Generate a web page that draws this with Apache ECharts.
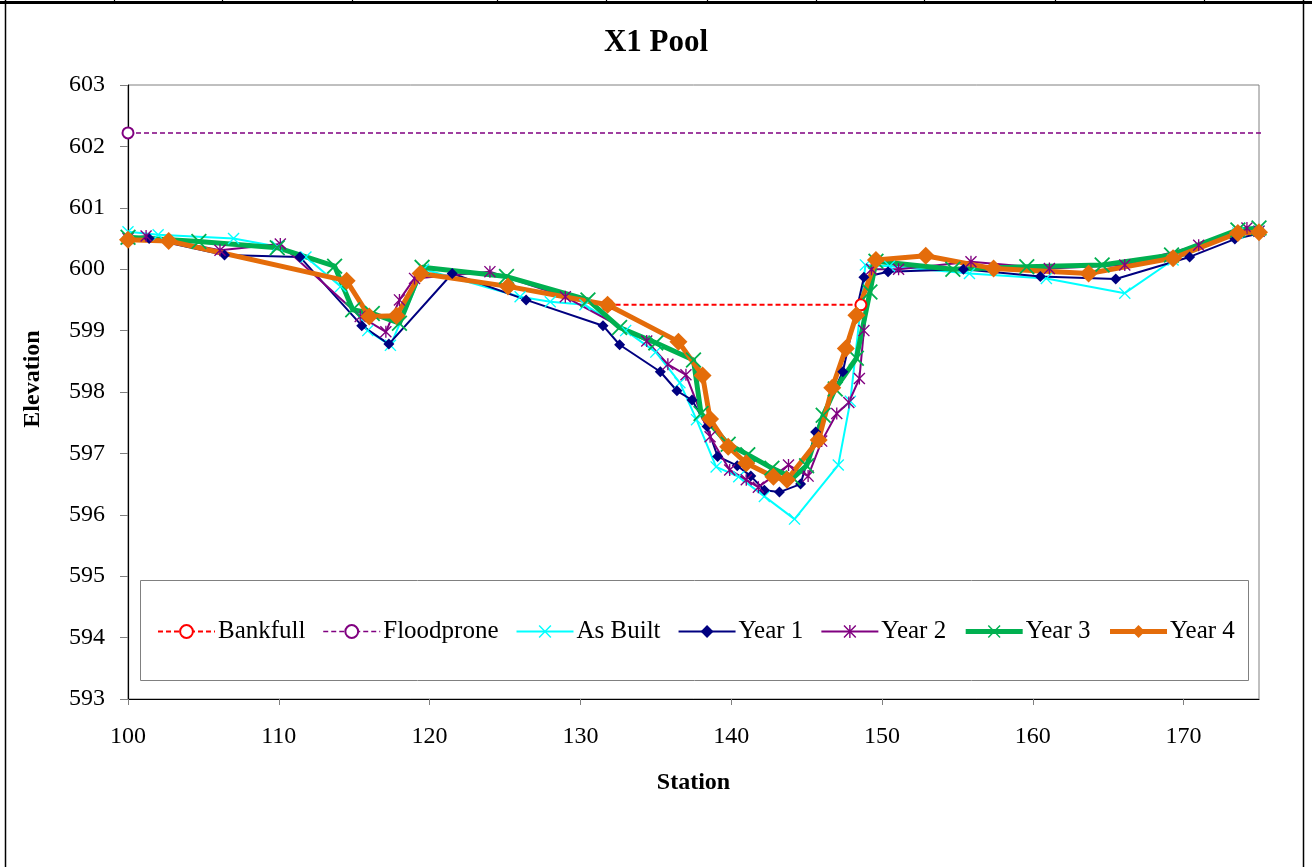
<!DOCTYPE html>
<html>
<head>
<meta charset="utf-8">
<title>X1 Pool</title>
<script src="https://cdn.jsdelivr.net/npm/echarts@6/dist/echarts.min.js"></script>
<style>
  html, body { margin: 0; padding: 0; background: #fff; }
  #chart { width: 1312px; height: 867px; }
</style>
</head>
<body>
<div id="chart"></div>
<script>
// Cross-section X1 (pool): station (ft) vs. elevation (ft)
const xTicks = [100, 110, 120, 130, 140, 150, 160, 170];
const yTicks = [593, 594, 595, 596, 597, 598, 599, 600, 601, 602, 603];

const bankfullStation = [131.8, 148.6];
const bankfullElev    = [599.42, 599.42];

const floodproneStation = [100, 175.6];
const floodproneElev    = [602.22, 602.22];

const asBuiltStation = [100.0, 102.0, 107.0, 109.9, 111.8, 114.1, 115.9, 117.4, 119.6, 126.0,
  128.0, 130.3, 133.0, 135.0, 136.6, 137.7, 139.0, 140.5, 142.2, 144.2, 147.1, 147.9, 148.9,
  150.5, 155.8, 160.9, 166.1, 169.3, 173.6, 175.0];
const asBuiltElev = [600.61, 600.56, 600.50, 600.37, 600.20, 599.72, 599.00, 598.76, 600.00, 599.55,
  599.47, 599.42, 599.00, 598.65, 598.15, 597.55, 596.78, 596.62, 596.30, 595.93, 596.81, 597.85, 600.07,
  600.05, 599.93, 599.85, 599.61, 600.15, 600.59, 600.62];

const year1Station = [100.0, 101.4, 106.4, 111.4, 115.5, 117.3, 121.5, 126.4, 131.5, 132.6,
  135.3, 136.4, 137.4, 138.4, 139.1, 140.4, 141.3, 142.2, 143.2, 144.6, 145.6, 147.4, 148.8,
  150.4, 155.4, 160.5, 165.5, 170.4, 173.4, 175.0];
const year1Elev = [600.50, 600.50, 600.23, 600.20, 599.08, 598.78, 599.93, 599.50, 599.08, 598.77,
  598.33, 598.02, 597.87, 597.44, 596.95, 596.80, 596.63, 596.40, 596.37, 596.50, 597.35, 598.33, 599.87,
  599.96, 600.00, 599.88, 599.84, 600.20, 600.49, 600.58];

const year2Station = [100.0, 101.2, 106.1, 110.1, 115.4, 117.1, 118.0, 119.0, 124.0, 129.0,
  134.4, 135.8, 137.0, 138.6, 139.9, 141.0, 141.8, 143.8, 145.1, 146.0, 147.0, 147.8, 148.5,
  148.8, 149.3, 151.1, 155.9, 161.1, 166.1, 171.0, 174.2, 175.0];
const year2Elev = [600.50, 600.54, 600.31, 600.41, 599.23, 598.98, 599.50, 599.85, 599.96, 599.55,
  598.83, 598.45, 598.28, 597.27, 596.73, 596.57, 596.45, 596.81, 596.63, 597.20, 597.65, 597.83, 598.22,
  599.00, 600.00, 600.00, 600.12, 600.01, 600.07, 600.39, 600.67, 600.62];

const year3Station = [100.0, 104.7, 109.9, 113.7, 114.9, 116.2, 118.0, 119.5, 125.1, 130.5,
  132.6, 135.0, 137.5, 138.0, 139.8, 141.1, 142.7, 144.1, 145.0, 146.1, 146.9, 148.3, 149.2,
  149.6, 154.7, 159.6, 164.6, 169.2, 173.6, 175.0];
const year3Elev = [600.52, 600.45, 600.35, 600.05, 599.34, 599.28, 599.12, 600.03, 599.88, 599.50,
  599.05, 598.80, 598.52, 597.65, 597.15, 596.98, 596.76, 596.60, 596.80, 597.62, 598.05, 598.55, 599.63,
  600.13, 600.00, 600.04, 600.07, 600.23, 600.64, 600.67];

const year4Station = [100.0, 102.7, 114.5, 116.0, 117.8, 119.4, 125.2, 131.8, 136.5, 138.1,
  138.6, 139.8, 141.0, 142.8, 143.7, 145.8, 146.7, 147.6, 148.3, 149.6, 152.9, 157.4, 163.7,
  169.3, 173.6, 175.0];
const year4Elev = [600.48, 600.46, 599.81, 599.23, 599.24, 599.93, 599.72, 599.42, 598.82, 598.27,
  597.56, 597.11, 596.84, 596.62, 596.57, 597.22, 598.07, 598.71, 599.25, 600.15, 600.22, 600.01, 599.93,
  600.18, 600.59, 600.60];

const FONT = '"Liberation Serif", "Times New Roman", serif';

// thin "x" cross and asterisk marker outlines (filled polygons)
const CROSS = 'path://M0,0.8L0.8,0L5,4.2L9.2,0L10,0.8L5.8,5L10,9.2L9.2,10L5,5.8L0.8,10L0,9.2L4.2,5Z';
const STAR = CROSS + 'M4.45,0L5.55,0L5.55,10L4.45,10Z';

function pairs(xs, ys) {
  return xs.map((x, i) => [x, ys[i]]);
}

const SERIES_STYLE = {
  'Bankfull':   { color: '#FF0000', width: 2,   symbol: 'emptyCircle', size: 11, dash: [5, 3] },
  'Floodprone': { color: '#800080', width: 1.5, symbol: 'emptyCircle', size: 11, dash: [5, 3] },
  'As Built':   { color: '#00FFFF', width: 2,   symbol: CROSS,         size: 12 },
  'Year 1':     { color: '#000080', width: 2,   symbol: 'diamond',     size: 11 },
  'Year 2':     { color: '#800080', width: 2,   symbol: STAR,          size: 12 },
  'Year 3':     { color: '#00B050', width: 5,   symbol: CROSS,         size: 16 },
  'Year 4':     { color: '#E46C0A', width: 5,   symbol: 'diamond',     size: 18 }
};

function lineSeries(name, xs, ys) {
  const s = SERIES_STYLE[name];
  return {
    name: name,
    type: 'line',
    data: pairs(xs, ys),
    color: s.color,
    symbol: s.symbol,
    symbolSize: s.size,
    showAllSymbol: true,
    lineStyle: { color: s.color, width: s.width, type: s.dash || 'solid' },
    itemStyle: { color: s.color, borderWidth: s.symbol === 'emptyCircle' ? 1.2 : 0 },
    emphasis: { disabled: true },
    silent: true
  };
}

const legendNames = ['Bankfull', 'Floodprone', 'As Built', 'Year 1', 'Year 2', 'Year 3', 'Year 4'];

const chart = echarts.init(document.getElementById('chart'), null, { renderer: 'canvas' });

// spreadsheet frame around the chart
const frameTicks = [114, 222, 352, 497, 606, 707, 816, 924, 1055, 1204];
const frame = [
  { type: 'rect', shape: { x: 0, y: 1, width: 1312, height: 3 }, style: { fill: '#000' }, z: 100 },
  { type: 'line', shape: { x1: 5.5, y1: 0, x2: 5.5, y2: 867 }, style: { stroke: '#000', lineWidth: 1.5 }, z: 100 },
  { type: 'line', shape: { x1: 1303.5, y1: 0, x2: 1303.5, y2: 867 }, style: { stroke: '#000', lineWidth: 1.5 }, z: 100 }
];
frameTicks.forEach(x => {
  frame.push({ type: 'line', shape: { x1: x + 0.5, y1: 0, x2: x + 0.5, y2: 3 }, style: { stroke: '#000', lineWidth: 1.2 }, z: 100 });
});

chart.setOption({
  animation: false,
  backgroundColor: '#fff',
  title: {
    text: 'X1 Pool',
    left: 'center',
    top: 22,
    textStyle: { fontFamily: FONT, fontWeight: 'bold', fontSize: 31, color: '#000' }
  },
  grid: {
    left: 128, right: 53, top: 85, bottom: 168,
    show: true, borderColor: '#808080', borderWidth: 1, backgroundColor: 'transparent'
  },
  legend: {
    left: 157,
    top: 619,
    padding: 0,
    itemWidth: 57,
    itemHeight: 16,
    itemGap: 17,
    textStyle: { fontFamily: FONT, fontSize: 25, color: '#000', padding: [0, 0, 0, -2] },
    data: legendNames.map(n => ({
      name: n,
      lineStyle: { width: SERIES_STYLE[n].width, type: SERIES_STYLE[n].dash || 'solid' }
    })),
    selectedMode: false
  },
  xAxis: {
    type: 'value',
    min: 100,
    max: 175,
    interval: 10,
    name: 'Station',
    nameLocation: 'middle',
    nameGap: 72,
    nameTextStyle: { fontFamily: FONT, fontWeight: 'bold', fontSize: 24, color: '#000' },
    axisLine: { show: true, onZero: false, lineStyle: { color: '#000', width: 1.2 } },
    axisTick: { show: true, length: 6, customValues: xTicks, lineStyle: { color: '#808080' } },
    axisLabel: { customValues: xTicks, margin: 26, fontFamily: FONT, fontSize: 24, color: '#000' },
    splitLine: { show: false }
  },
  yAxis: {
    type: 'value',
    min: 593,
    max: 603,
    interval: 1,
    axisLine: { show: true, onZero: false, lineStyle: { color: '#000', width: 1.2 } },
    axisTick: { show: true, length: 8, customValues: yTicks, lineStyle: { color: '#808080' } },
    axisLabel: { customValues: yTicks, margin: 23, fontFamily: FONT, fontSize: 24, color: '#000' },
    splitLine: { show: false }
  },
  graphic: [
    {
      type: 'rect',
      shape: { x: 140.5, y: 580.5, width: 1108, height: 100 },
      style: { fill: '#fff', stroke: '#808080', lineWidth: 1 },
      z: 0
    },
    {
      type: 'text',
      x: 33,
      y: 379,
      rotation: Math.PI / 2,
      style: {
        text: 'Elevation',
        font: 'bold 24px ' + FONT,
        fill: '#000',
        align: 'center',
        verticalAlign: 'middle',
        textAlign: 'center',
        textVerticalAlign: 'middle'
      }
    }
  ].concat(frame),
  series: [
    lineSeries('Bankfull', bankfullStation, bankfullElev),
    lineSeries('Floodprone', floodproneStation, floodproneElev),
    lineSeries('As Built', asBuiltStation, asBuiltElev),
    lineSeries('Year 1', year1Station, year1Elev),
    lineSeries('Year 2', year2Station, year2Elev),
    lineSeries('Year 3', year3Station, year3Elev),
    lineSeries('Year 4', year4Station, year4Elev)
  ]
});
</script>
</body>
</html>
